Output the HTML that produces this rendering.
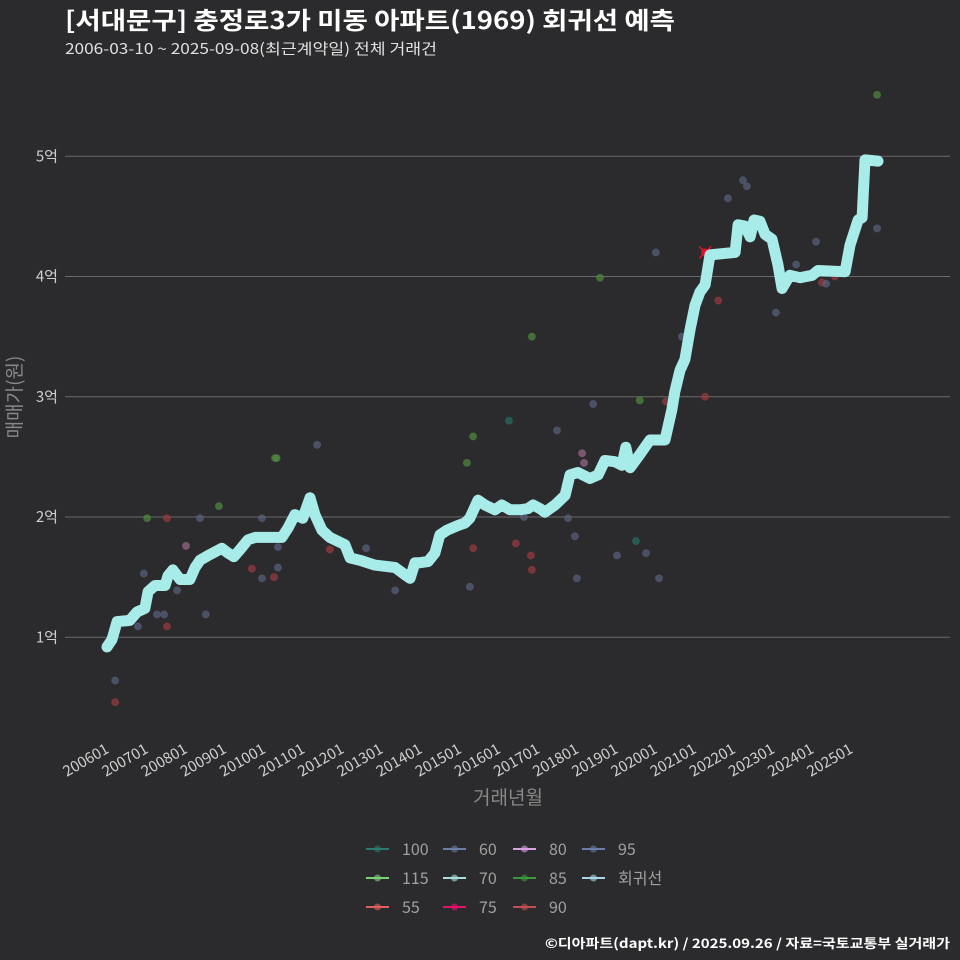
<!DOCTYPE html>
<html><head><meta charset="utf-8"><style>
body{margin:0;background:#2b2b2d;}
svg{display:block;font-family:"Noto Sans CJK KR","Liberation Sans",sans-serif;}
</style></head><body>
<svg id="c" width="960" height="960" viewBox="0 0 960 960">
<rect width="960" height="960" fill="#2b2b2d"/>
<text x="65" y="29" fill="#ffffff" font-size="24" font-weight="bold" textLength="610" lengthAdjust="spacingAndGlyphs">[서대문구] 충정로3가 미동 아파트(1969) 회귀선 예측</text>
<text x="65" y="54" fill="#e0e0e0" font-size="15" textLength="372" lengthAdjust="spacingAndGlyphs">2006-03-10 ~ 2025-09-08(최근계약일) 전체 거래건</text>
<g id="grid"></g><g id="pts"></g><g id="line"></g><g id="xt"></g>
<text x="0" y="0" transform="translate(21,397) rotate(-90)" text-anchor="middle" fill="#888" font-size="19">매매가(원)</text>
<text x="508" y="804" text-anchor="middle" fill="#888" font-size="19">거래년월</text>
<g id="legend"></g>
<text x="950" y="948" text-anchor="end" fill="#ffffff" font-size="13" font-weight="bold" textLength="405" lengthAdjust="spacingAndGlyphs">©디아파트(dapt.kr) / 2025.09.26 / 자료=국토교통부 실거래가</text>
</svg>
<script>
const yTicks=[1,2,3,4,5];
const yTickLabels=["1억","2억","3억","4억","5억"];
const xTickLabels=["200601","200701","200801","200901","201001","201101","201201","201301","201401","201501","201601","201701","201801","201901","202001","202101","202201","202301","202401","202501"];
// regression line: months since 2006-01, value in 억
const lineMonths=[0,1.5,3.1,7,9.2,11.6,12.6,14.7,17.8,18.7,20.2,22.4,25.4,27,28.5,31,33.1,35.2,37.1,38.9,40.8,43.2,45.4,53.6,55.5,57.6,60,62.2,63.7,65.9,68.3,72.9,74.5,77.5,82.1,88.3,91.3,92.9,94.4,95.9,98.4,100.5,102,104.2,107.6,109.7,111.2,113.7,115.8,118.9,121,123.5,126.6,129,130.6,132.7,134.2,137.3,140.4,141.9,144.3,148,150.5,152.6,155.7,157.8,159,160.3,163.3,166.4,171,173.1,174,175.6,177.1,178.7,180.2,181.7,183.3,184.8,192.5,193.4,195.5,197.1,198.3,200.1,201.7,203.8,205.6,206.9,209.3,212.4,216.1,217.9,226.2,227.7,230.2,231.4,232.3,236.3];
const lineValues=[0.92,0.98,1.13,1.14,1.21,1.24,1.38,1.43,1.43,1.51,1.56,1.48,1.48,1.58,1.64,1.68,1.71,1.74,1.70,1.67,1.73,1.81,1.83,1.83,1.91,2.02,1.99,2.16,2.02,1.89,1.83,1.77,1.66,1.64,1.60,1.58,1.52,1.49,1.62,1.62,1.63,1.70,1.85,1.89,1.93,1.95,1.99,2.14,2.10,2.06,2.10,2.06,2.06,2.07,2.10,2.07,2.04,2.10,2.18,2.35,2.37,2.32,2.35,2.47,2.46,2.43,2.58,2.41,2.52,2.64,2.64,2.89,3.04,3.22,3.31,3.56,3.76,3.87,3.93,4.18,4.20,4.43,4.42,4.33,4.47,4.46,4.35,4.31,4.10,3.90,4.01,3.99,4.01,4.05,4.04,4.26,4.47,4.49,4.97,4.96];
// transactions
const ptMonths=[2.5,2.5,12.3,18.4,11.3,9.5,15.3,17.5,18.4,21.5,24.2,28.5,30.3,34.3,44.4,47.5,47.5,51.2,51.5,52,52.4,52.4,64.4,68.3,79.4,88.3,110.3,112.2,111.2,112.2,123.2,125.3,127.8,130.2,129.9,130.2,137.9,141.3,143.4,144,145.6,146.2,149,151.1,156.3,162.1,163.3,165.2,168.2,169.2,171.3,176.2,183.3,183.3,187.3,190.3,194.9,196.1,205,211.2,217.3,219.1,220.4,223.1,236,236];
const ptValues=[0.64,0.46,1.99,1.99,1.53,1.09,1.19,1.19,1.09,1.39,1.76,1.99,1.19,2.09,1.57,1.99,1.49,1.50,2.49,2.49,1.75,1.58,2.60,1.73,1.74,1.39,2.45,2.67,1.42,1.74,2.80,1.78,2.00,3.50,1.68,1.56,2.72,1.99,1.84,1.49,2.53,2.45,2.94,3.99,1.68,1.80,2.97,1.70,4.20,1.49,2.96,3.50,4.20,3.00,3.80,4.65,4.80,4.75,3.70,4.10,4.29,3.95,3.94,4.00,5.51,4.40];
const ptSizes=["b","r","g","r","b","b","b","b","r","b","pk","b","b","g","r","b","b","r","g","g","b","b","b","r","b","b","g","g","b","r","t","r","b","g","r","r","b","b","b","b","pk","pk","b","g","b","t","g","b","b","b","r","b","x","r","r","b","b","b","b","b","b","r","b","r","g","b"];
const colorMap={b:"#59627e",r:"#9b3c40",g:"#4f8a3e",t:"#2a6e64",pk:"#9a6a8c",x:"#e0102a"};
const NS="http://www.w3.org/2000/svg";
const X=m=>107+m*3.263;
const Y=v=>757.5-v*120.25;
function mk(tag,attrs,parent){const e=document.createElementNS(NS,tag);for(const k in attrs)e.setAttribute(k,attrs[k]);parent.appendChild(e);return e;}
const grid=document.getElementById('grid');
yTicks.forEach((v,i)=>{
 const l=mk('line',{x1:65,x2:950,y1:Y(v),y2:Y(v),stroke:'#6a6a6a','stroke-width':1},grid);
 
 
 const t=mk('text',{x:58,y:Y(v)+5,'text-anchor':'end',fill:'#cfcfcf','font-size':15},grid);
 t.textContent=yTickLabels[i];
 
 
});
const xt=document.getElementById('xt');
xTickLabels.forEach((s,i)=>{
 const x=X(i*12);
 const t=mk('text',{x:0,y:0,transform:`translate(${x+3},${752}) rotate(-30)`,'text-anchor':'end',fill:'#cfcfcf','font-size':15},xt);
 t.textContent=s;
 
 
});
const pts=document.getElementById('pts');
ptMonths.forEach((m,i)=>{
 const k=ptSizes[i];
 if(k==='x'){
  const g=mk('g',{},pts);
  
  
  const cx=X(m),cy=Y(ptValues[i]);
  mk('line',{x1:cx-6,y1:cy-6,x2:cx+6,y2:cy+6,stroke:colorMap.x,'stroke-width':1.5},g);
  mk('line',{x1:cx-6,y1:cy+6,x2:cx+6,y2:cy-6,stroke:colorMap.x,'stroke-width':1.5},g);
  mk('circle',{cx:cx,cy:cy,r:4,fill:colorMap.x},g);
 } else {
  const c=mk('circle',{cx:X(m),cy:Y(ptValues[i]),r:3.5,fill:colorMap[k],'fill-opacity':0.7,stroke:colorMap[k],'stroke-opacity':0.5},pts);
  
  
 }
});
const d=lineMonths.map((m,i)=>(i?'L':'M')+X(m).toFixed(1)+' '+Y(lineValues[i]).toFixed(1)).join(' ');
const p=mk('path',{d:d,fill:'none',stroke:'#a8ecea','stroke-width':11,'stroke-linejoin':'round','stroke-linecap':'round'},document.getElementById('line'));


const legendLabels=["100","115","55","60","70","75","80","85","90","95","회귀선"];
const legendColors=["#2a7a70","#7fd07a","#e06060","#6a7fa8","#a8e0e0","#e8106a","#d8a0e0","#3a9a3a","#c05050","#6a7fa8","#a8d8e8"];
const lg=document.getElementById('legend');
const colX=[366,443,513,582];
legendLabels.forEach((s,i)=>{
 const col=Math.floor(i/3),row=i%3;
 const x=colX[col],y=849+row*29;
 const g=mk('g',{},lg);
 
 
 mk('line',{x1:x,x2:x+23,y1:y,y2:y,stroke:legendColors[i],'stroke-width':2},g);
 mk('circle',{cx:x+11.5,cy:y,r:3.5,fill:legendColors[i],'fill-opacity':0.6},g);
 const t=mk('text',{x:x+36,y:y+6,fill:'#a0a0a0','font-size':16},g);
 t.textContent=s;
});
</script>
</body></html>
